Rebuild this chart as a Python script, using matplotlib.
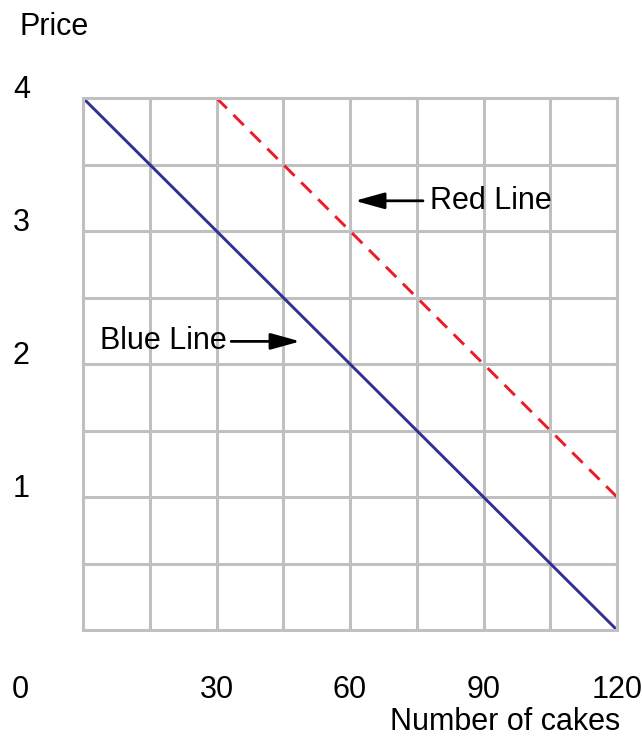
import matplotlib
matplotlib.use("Agg")
import matplotlib.pyplot as plt
import matplotlib.transforms as mtransforms

plt.rcParams['font.family'] = ['Liberation Sans', 'DejaVu Sans']

# data
blue_x = [0, 120]
blue_y = [4, 0]
red_x = [30, 120]
red_y = [4, 1]
x_tick_vals = [30, 60, 90, 120]
x_tick_labels = ["30", "60", "90", "120"]
y_tick_vals = [1, 2, 3, 4]
y_tick_labels = ["1", "2", "3", "4"]
origin_label = "0"
x_title = "Number of cakes"
y_title = "Price"

FS = 22
GRID = "#c0c0c0"

fig = plt.figure(figsize=(6.42, 7.38), dpi=100)
ax = fig.add_axes([83/642, 1 - 630/738, 534/642, 532/738])
ax.set_xlim(0, 120)
ax.set_ylim(0, 4)

ax.set_xticks([i * 15 for i in range(9)])
ax.set_yticks([i * 0.5 for i in range(9)])
ax.tick_params(length=0, labelbottom=False, labelleft=False)
ax.grid(True, color=GRID, linewidth=2.2)
ax.set_axisbelow(True)
for s in ax.spines.values():
    s.set_color(GRID)
    s.set_linewidth(2.2)

ax.plot(blue_x, blue_y, color="#2e3192", linewidth=2.1, solid_capstyle='butt', clip_on=False)
ax.plot(red_x, red_y, color="#ed1c24", linewidth=2.1, linestyle=(0, (5, 3.2)), clip_on=False)

# tick labels
xtr = mtransforms.blended_transform_factory(ax.transData, fig.transFigure)
for v, lab in zip(x_tick_vals, x_tick_labels):
    ax.text(v, 1 - 690/738, lab, transform=xtr, ha='center', va='center', fontsize=FS)
ytr = mtransforms.blended_transform_factory(fig.transFigure, ax.transData)
for v, lab in zip(y_tick_vals, y_tick_labels):
    ax.text(13/642, v, lab, transform=ytr, ha='left', va='baseline', fontsize=FS)
fig.text(12/642, 1 - 690/738, origin_label, ha='left', va='center', fontsize=FS)

fig.text(20/642, 1 - 35/738, y_title, ha='left', va='baseline', fontsize=FS)
fig.text(620/642, 1 - 730/738, x_title, ha='right', va='baseline', fontsize=FS)

# annotations
astyle = dict(arrowstyle="-|>,head_length=1.8,head_width=0.5", color="black",
              lw=2, mutation_scale=10, shrinkA=0, shrinkB=0)
ax.annotate("", xy=(48.8, 2.17), xytext=(33.3, 2.17), arrowprops=astyle)
ax.text(32.4, 2.17, "Blue Line", ha='right', va='center', fontsize=FS)
ax.annotate("", xy=(61.1, 3.227), xytext=(76.4, 3.227), arrowprops=astyle)
ax.text(78.0, 3.227, "Red Line", ha='left', va='center', fontsize=FS)

fig.savefig("out.png", dpi=100)
